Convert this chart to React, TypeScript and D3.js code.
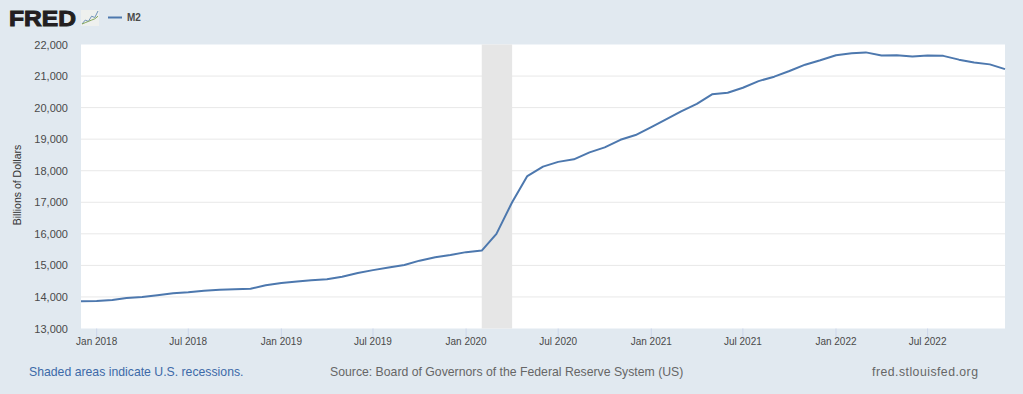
import React from "react";
import * as d3 from "d3";

const START = "2017-12-01";
const END = "2022-12-01";
const m2Values = [
  13860, 13870, 13905, 13965, 13995, 14055, 14115, 14150, 14200, 14225, 14240, 14260, 14370,
  14440, 14490, 14530, 14560, 14640, 14760, 14850, 14930, 15010, 15150, 15260, 15330,
  15420, 15470, 16000, 17000, 17830, 18130, 18280, 18360, 18580, 18740, 18980, 19130,
  19380, 19640, 19880, 20120, 20420, 20470, 20630, 20840, 20980, 21160, 21360, 21500,
  21660, 21720, 21750, 21650, 21660, 21620, 21650, 21640, 21520, 21430, 21370, 21220,
];
const yTicks = [13000, 14000, 15000, 16000, 17000, 18000, 19000, 20000, 21000, 22000];
const xTickDates = ["2018-01-01", "2018-07-01", "2019-01-01", "2019-07-01", "2020-01-01", "2020-07-01", "2021-01-01", "2021-07-01", "2022-01-01", "2022-07-01"];
const recession = ["2020-02-01", "2020-04-01"];
const iconBlue = [0, 3, 2, 6, 5, 10];
const iconGreen = [0, 1, 2, 3, 4, 6];

const FONT = "'Liberation Sans', Arial, sans-serif";
const parse = (s: string) => new Date(s + "T00:00:00Z");
const fmt = d3.utcFormat("%b %Y");

const x = d3.scaleUtc().domain([parse(START), parse(END)]).range([81, 1005]);
const y = d3.scaleLinear().domain([13000, 22000]).range([328.5, 44.5]);
const dates = d3.utcMonth.range(parse(START), d3.utcMonth.offset(parse(END), 1));
const line = d3.line<number>().x((_, i) => x(dates[i])).y((d) => y(d));
const iconX = d3.scaleLinear().domain([0, 5]).range([82, 98]);
const iconY = d3.scaleLinear().domain([0, 10]).range([24, 11]);
const iconLine = d3.line<number>().x((_, i) => iconX(i)).y((d) => iconY(d));

export default function App() {
  return (
    <svg width={1023} height={394} style={{ position: "fixed", left: 0, top: 0, display: "block" }} fontFamily={FONT}>
      <rect width={1023} height={394} fill="#e1e9f0" />
      <rect x={81} y={44.5} width={924} height={284} fill="#ffffff" />
      {yTicks.slice(1, -1).map((t) => (
        <line key={t} x1={81} x2={1005} y1={y(t)} y2={y(t)} stroke="#e8e8e8" strokeWidth={1} />
      ))}
      <rect x={x(parse(recession[0]))} y={44.5} width={x(parse(recession[1])) - x(parse(recession[0]))} height={284} fill="#e6e6e6" />
      <path d={line(m2Values) ?? ""} fill="none" stroke="#4d78ae" strokeWidth={2} strokeLinejoin="round" />
      {yTicks.map((t) => (
        <text key={t} x={68} y={y(t) + 4} textAnchor="end" fontSize={11} fill="#4a4a4a">{d3.format(",")(t)}</text>
      ))}
      <text transform="translate(21,185) rotate(-90)" textAnchor="middle" fontSize={10.5} fill="#333333">Billions of Dollars</text>
      {xTickDates.map((s) => {
        const px = x(parse(s));
        return (
          <g key={s}>
            <line x1={px} x2={px} y1={328.5} y2={337} stroke="#ccd6eb" />
            <text x={px} y={345} textAnchor="middle" fontSize={10} fill="#4a4a4a">{fmt(parse(s))}</text>
          </g>
        );
      })}
      <text x={9} y={26} fontSize={22.5} fontWeight={700} fill="#231f20" textLength={67} lengthAdjust="spacingAndGlyphs" stroke="#231f20" strokeWidth={1}>FRED</text>
      <rect x={81} y={10} width={18} height={16} fill="#eef0ee" />
      <path d={iconLine(iconBlue) ?? ""} fill="none" stroke="#6f93b8" strokeWidth={1} />
      <path d={iconLine(iconGreen) ?? ""} fill="none" stroke="#86a85a" strokeWidth={1} />
      <line x1={108} x2={122} y1={17.5} y2={17.5} stroke="#4d78ae" strokeWidth={2} />
      <text x={127} y={21} fontSize={10} fontWeight={700} fill="#4a4a4a">M2</text>
      <text x={29} y={376} fontSize={12.25} fill="#3d6aa8">Shaded areas indicate U.S. recessions.</text>
      <text x={330} y={376} fontSize={12.25} fill="#666666">Source: Board of Governors of the Federal Reserve System (US)</text>
      <text x={872} y={376} fontSize={12.25} fill="#666666" textLength={106}>fred.stlouisfed.org</text>
    </svg>
  );
}
